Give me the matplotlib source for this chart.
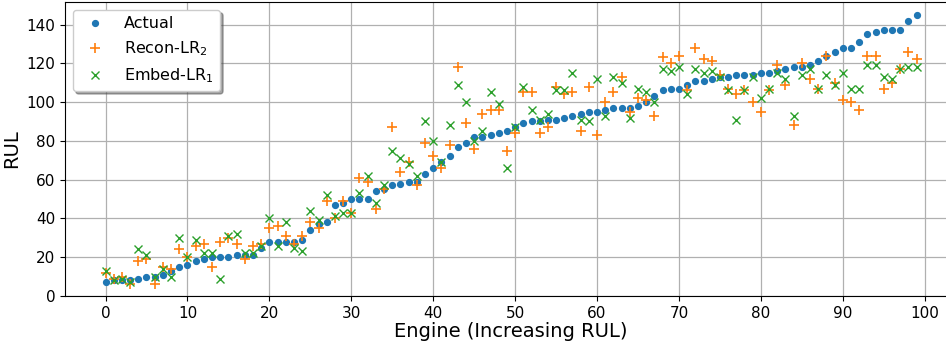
import matplotlib
matplotlib.use("Agg")
import matplotlib.pyplot as plt
import numpy as np

# engine index (sorted by increasing true RUL)
engines = np.arange(100)

actual = [7, 8, 8, 8, 9, 10, 10, 11, 13, 15,
          16, 18, 19, 20, 20, 20, 21, 21, 21, 25,
          28, 28, 28, 28, 29, 34, 37, 38, 47, 48,
          50, 50, 50, 54, 55, 57, 58, 59, 59, 63,
          66, 69, 72, 77, 79, 82, 82, 83, 84, 85,
          87, 89, 90, 90, 91, 91, 92, 93, 94, 95,
          95, 96, 97, 97, 97, 98, 100, 103, 106, 107,
          107, 109, 111, 111, 112, 113, 113, 114, 114, 114,
          115, 115, 116, 117, 118, 118, 119, 121, 124, 126,
          128, 128, 131, 135, 136, 137, 137, 137, 142, 145]

recon_lr2 = [12, 9, 10, 6, 18, 19, 6, 15, 14, 24,
             20, 26, 27, 15, 28, 30, 27, 19, 26, 27,
             35, 36, 31, 27, 31, 38, 35, 49, 40, 49,
             43, 61, 59, 45, 55, 87, 64, 69, 57, 79,
             72, 66, 78, 118, 89, 76, 94, 96, 96, 75,
             84, 105, 105, 84, 87, 108, 104, 105, 85, 108,
             83, 100, 105, 113, 95, 102, 101, 93, 123, 120,
             124, 106, 128, 122, 121, 114, 107, 104, 106, 100,
             95, 106, 119, 109, 88, 120, 112, 107, 124, 110,
             101, 100, 96, 124, 124, 107, 110, 117, 126, 122]

embed_lr1 = [13, 8, 9, 7, 24, 21, 10, 14, 10, 30,
             20, 29, 22, 22, 9, 31, 32, 22, 22, 26,
             40, 26, 38, 25, 23, 44, 39, 52, 41, 43,
             43, 53, 62, 48, 57, 75, 71, 68, 62, 90,
             80, 69, 88, 109, 100, 80, 85, 105, 99, 66,
             87, 108, 96, 91, 94, 106, 106, 115, 91, 90,
             112, 93, 113, 110, 92, 107, 105, 100, 117, 116,
             118, 104, 117, 115, 116, 113, 106, 91, 106, 113,
             102, 107, 115, 112, 93, 114, 117, 107, 114, 109,
             115, 107, 107, 119, 119, 113, 112, 117, 118, 118]

fig = plt.figure(figsize=(9.46, 3.41), dpi=100)
ax = fig.add_axes([0.0687, 0.132, 0.943, 0.862])

ax.plot(engines, actual, 'o', color='C0', markersize=4.2, label='Actual')
ax.plot(engines, recon_lr2, '+', color='C1', markersize=7, markeredgewidth=1.2, label='Recon-LR$_2$')
ax.plot(engines, embed_lr1, 'x', color='C2', markersize=6, markeredgewidth=1.0, label='Embed-LR$_1$')

ax.set_xlim(-4.95, 103.95)
ax.set_ylim(0, 151.6)
ax.set_xticks(range(0, 101, 10))
ax.set_yticks(range(0, 141, 20))
ax.grid(True, color='#b0b0b0', linewidth=0.9)
ax.set_axisbelow(True)
ax.tick_params(labelsize=11)

ax.set_xlabel('Engine (Increasing RUL)', fontsize=14, labelpad=1)
ax.set_ylabel('RUL', fontsize=14)

ax.legend(loc='upper left', fontsize=11.5, shadow=True)

fig.savefig('out.png', dpi=100)
